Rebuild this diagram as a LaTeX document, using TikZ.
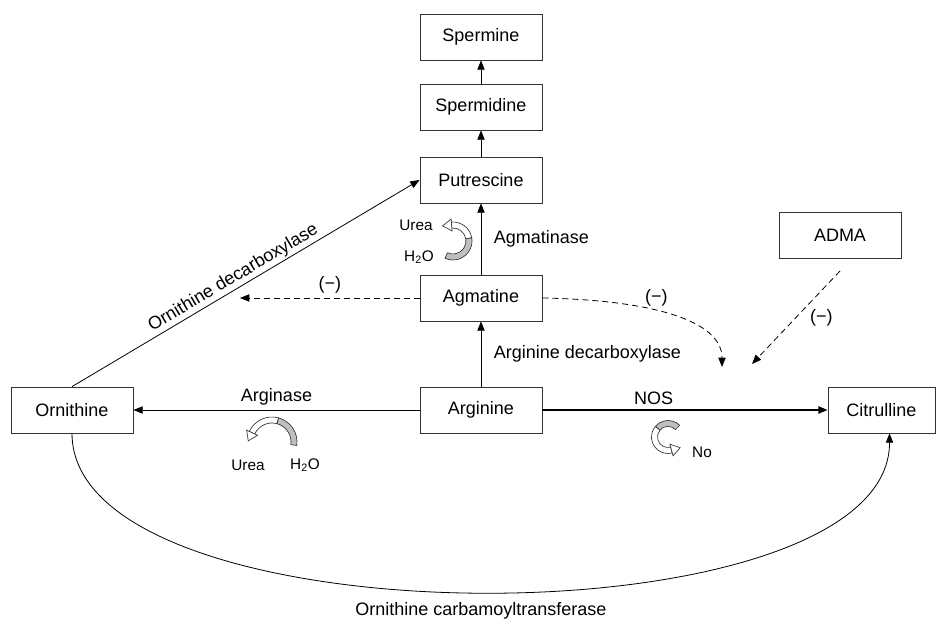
\documentclass[tikz,border=0pt]{standalone}
\usepackage{fontspec}
\setmainfont{Liberation Sans}
\usetikzlibrary{arrows.meta,calc}

\begin{document}
\begin{tikzpicture}[x=0.75pt,y=0.75pt,
		font=\fontsize{13.5}{16}\selectfont,
		>={Triangle[length=7pt,width=5.5pt]},
		line width=0.6pt,
		box/.style={draw=black!80, minimum width=91.5pt, minimum height=34.5pt, inner sep=2pt},
		small/.style={font=\fontsize{11.5}{13}\selectfont, inner sep=0pt},
		inhib/.style={->, dash pattern=on 4.5pt off 3pt},
		bandgrey/.style={draw=black!80, fill=gray!50, line width=0.5pt},
		bandwhite/.style={draw=black!80, fill=white, line width=0.5pt}]
		\useasboundingbox (0,0) rectangle (940,-630);
		% metabolites
		\node[box] (spermine) at (481,-37) {Spermine};
		\node[box] (spermidine) at (481,-107) {Spermidine};
		\node[box] (putrescine) at (481,-180) {Putrescine};
		\node[box] (agmatine) at (481,-298) {Agmatine};
		\node[box] (arginine) at (481,-410) {Arginine};
		\node[box] (ornithine) at (72,-410) {Ornithine};
		\node[box, minimum width=80.25pt] (citrulline) at (881.5,-410) {Citrulline};
		\node[box] (adma) at (840,-235) {ADMA};
		% free ends of the inhibition arrows
		\coordinate (leftin) at (240,-298);
		\coordinate (nosa) at (722,-367);
		\coordinate (nosb) at (752,-364);
		\coordinate (admaout) at (840,-271);
		% reactions
		\foreach \a/\b in {spermidine/spermine, putrescine/spermidine}
			\draw[->] (\a) -- (\b);
		\draw[->] (agmatine) -- node[right=6pt] {Agmatinase} (putrescine);
		\draw[->] (arginine) -- node[right=6pt] {Arginine decarboxylase} (agmatine);
		\draw[->] (arginine) -- node[above] {Arginase} (ornithine);
		\draw[->, line width=1.1pt] (arginine) -- node[above, pos=0.39] {NOS} (citrulline);
		\draw[->] (ornithine.north) -- node[sloped, above, inner sep=1.5pt, pos=0.48] {Ornithine decarboxylase} (putrescine.west);
		\draw[->] (ornithine.south) .. controls (72,-645) and (890,-645) .. node[below=4pt] {Ornithine carbamoyltransferase} ([xshift=6pt]citrulline.south);
		% inhibitions
		\draw[inhib] (agmatine) -- node[above] {(−)} (leftin);
		\draw[inhib] (agmatine.east) .. controls (650,-300) and (722,-320) .. node[pos=0.42, above] {(−)} (nosa);
		\draw[inhib] (admaout) -- node[right=7pt] {(−)} (nosb);
		% curled side arrows: centre / grey from / grey to / head at / radius
		\foreach \cx/\cy/\ra/\rb/\rc/\r in {453/-241/-115/10/95/16, 272/-442/-8/75/155/22, 668/-437/45/140/285/13.5}{
			\pgfmathsetmacro\ro{\r+3}
			\pgfmathsetmacro\ri{\r-3}
			\pgfmathsetmacro\rt{\rc+90}
			\filldraw[bandgrey] ($(\cx,\cy)+(\ra:\ro)$) arc (\ra:\rb:\ro) -- ($(\cx,\cy)+(\rb:\ri)$) arc (\rb:\ra:\ri) -- cycle;
			\filldraw[bandwhite] ($(\cx,\cy)+(\rb:\ro)$) arc (\rb:\rc:\ro) -- ($(\cx,\cy)+(\rc:\ri)$) arc (\rc:\rb:\ri) -- cycle;
			\filldraw[bandwhite] ($(\cx,\cy)+(\rc:\r+6)$) -- ($(\cx,\cy)+(\rc:\r)+(\rt:9)$) -- ($(\cx,\cy)+(\rc:\r-6)$) -- cycle;
		}
		\node[small] (urea1) at (416,-225) {Urea};
		\node[small] (water1) at (419,-257) {H\textsubscript{2}O};
		\node[small] (urea2) at (248,-465) {Urea};
		\node[small] (water2) at (305,-465) {H\textsubscript{2}O};
		\node[small] (no) at (702,-452) {No};
\end{tikzpicture}
\end{document}
